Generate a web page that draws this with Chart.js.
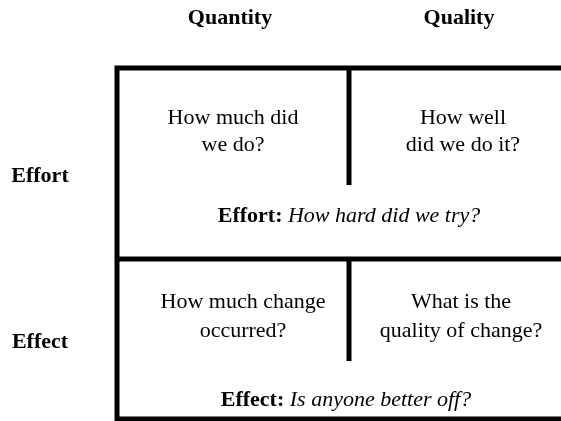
<!DOCTYPE html>
<html>
<head>
<meta charset="utf-8">
<script src="https://cdn.jsdelivr.net/npm/chart.js@4.4.1/dist/chart.umd.min.js"></script>
<style>
  html, body { margin: 0; padding: 0; background: #fff; }
  #wrap { width: 561px; height: 421px; }
</style>
</head>
<body>
<div id="wrap"><canvas id="matrix" width="561" height="421"></canvas></div>
<script>
// quadrant content
const columns = ['Quantity', 'Quality'];
const rows = ['Effort', 'Effect'];
const cellQuestions = [
    [['How much did', 'we do?'], ['How well', 'did we do it?']],
    [['How much change', 'occurred?'], ['What is the', 'quality of change?']]
];
const rowLead = ['Effort:', 'Effect:'];
const rowQuestion = ['How hard did we try?', 'Is anyone better off?'];

/* =========================
   layout (page pixels)
========================= */
const W = 561, H = 421;
const boxLeft = 117, boxRight = 581, colSplit = 349;
const rowEdges = [68, 259, 419];
const splitDepth = [117, 102];          // how far the divider reaches into each row
const headerX = [230, 459], headerY = 18;
const cellTextX = [[233, 463], [243, 461]];
const questionY = [[118, 145], [302, 331]];
const summaryX = [349, 346], summaryY = [216, 400];
const rowLabelX = 40, rowLabelY = [176, 342];
const serif = '"Liberation Serif", "Times New Roman", serif';

function segment(points) {
    return {
        data: points.map(p => ({x: p[0], y: p[1]})),
        showLine: true,
        borderColor: '#000',
        borderWidth: 5,
        pointRadius: 0,
        fill: false,
        tension: 0
    };
}

const datasets = [
    // outer frame
    segment([[boxRight, rowEdges[0]], [boxLeft, rowEdges[0]], [boxLeft, rowEdges[2]], [boxRight, rowEdges[2]], [boxRight, rowEdges[0]]]),
    // row separator
    segment([[boxLeft, rowEdges[1]], [boxRight, rowEdges[1]]])
];
rows.forEach((r, i) => {
    datasets.push(segment([[colSplit, rowEdges[i]], [colSplit, rowEdges[i] + splitDepth[i]]]));
});

const textPlugin = {
    id: 'quadrantText',
    afterDatasetsDraw(chart) {
        const {ctx, scales: {x, y}} = chart;
        ctx.save();
        ctx.fillStyle = '#000';
        ctx.textBaseline = 'middle';
        ctx.textAlign = 'center';

        ctx.font = 'bold 22px ' + serif;
        columns.forEach((c, j) => ctx.fillText(c, x.getPixelForValue(headerX[j]), y.getPixelForValue(headerY)));
        rows.forEach((r, i) => ctx.fillText(r, x.getPixelForValue(rowLabelX), y.getPixelForValue(rowLabelY[i])));

        ctx.font = '22px ' + serif;
        cellQuestions.forEach((row, i) => {
            row.forEach((lines, j) => {
                lines.forEach((t, k) => {
                    ctx.fillText(t, x.getPixelForValue(cellTextX[i][j]), y.getPixelForValue(questionY[i][k]));
                });
            });
        });

        // summary line: bold lead + italic question
        ctx.textAlign = 'left';
        rows.forEach((r, i) => {
            const lead = rowLead[i] + ' ';
            ctx.font = 'bold 22px ' + serif;
            const w1 = ctx.measureText(lead).width;
            ctx.font = 'italic 22px ' + serif;
            const w2 = ctx.measureText(rowQuestion[i]).width;
            const x0 = x.getPixelForValue(summaryX[i]) - (w1 + w2) / 2;
            const yy = y.getPixelForValue(summaryY[i]);
            ctx.font = 'bold 22px ' + serif;
            ctx.fillText(lead, x0, yy);
            ctx.font = 'italic 22px ' + serif;
            ctx.fillText(rowQuestion[i], x0 + w1, yy);
        });
        ctx.restore();
    }
};

function draw() {
    new Chart(document.getElementById('matrix'), {
        type: 'scatter',
        data: {datasets: datasets},
        options: {
            responsive: false,
            animation: false,
            events: [],
            layout: {padding: 0},
            plugins: {legend: {display: false}, tooltip: {enabled: false}},
            scales: {
                x: {type: 'linear', min: 0, max: W, display: false},
                y: {type: 'linear', min: 0, max: H, reverse: true, display: false}
            }
        },
        plugins: [textPlugin]
    });
}

Promise.all([
    document.fonts.load('22px "Liberation Serif"'),
    document.fonts.load('bold 22px "Liberation Serif"'),
    document.fonts.load('italic 22px "Liberation Serif"')
]).then(draw, draw);
</script>
</body>
</html>
